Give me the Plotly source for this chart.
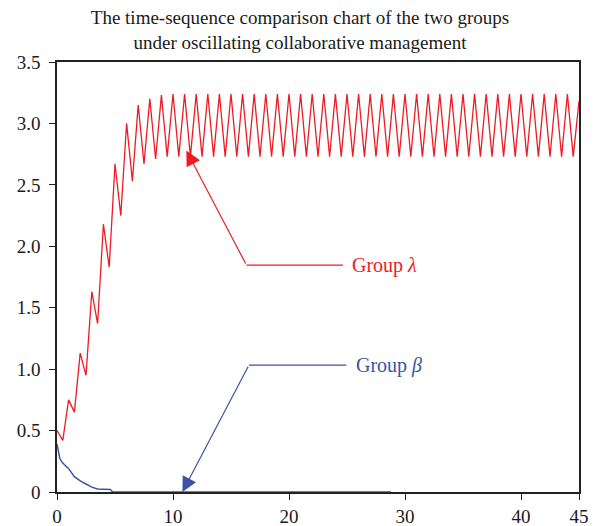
import plotly.graph_objects as go

# Group lambda (red): samples every 0.5 time units
red_t = [i * 0.5 for i in range(91)]
red_rise = [0.50, 0.42, 0.75, 0.65, 1.13, 0.95, 1.63, 1.37, 2.18, 1.83,
            2.67, 2.25, 3.00, 2.53, 3.15, 2.67, 3.20, 2.71, 3.23, 2.73]
red_peak = 3.24
red_trough = 2.73
red_last = 3.18
red_v = red_rise + [red_peak, red_trough] * 35 + [red_last]

# Group beta (blue)
blue_t = [0, 0.25, 0.5, 0.75, 1.0, 1.5, 2.0, 2.5, 3.0, 3.5, 4.0, 4.6, 4.8,
          10, 15, 20, 25, 28.8]
blue_v = [0.39, 0.27, 0.235, 0.21, 0.19, 0.125, 0.09, 0.065, 0.04, 0.025,
          0.02, 0.02, 0.0, 0.0, 0.0, 0.0, 0.0, 0.0]

x_ticks = [0, 10, 20, 30, 40, 45]
y_ticks = [0, 0.5, 1.0, 1.5, 2.0, 2.5, 3.0, 3.5]
y_tick_text = ["0", "0.5", "1.0", "1.5", "2.0", "2.5", "3.0", "3.5"]

RED = "#ED1C24"
BLUE = "#3A53A4"
FONT = "Liberation Serif"

fig = go.Figure()
fig.add_trace(go.Scatter(x=red_t, y=red_v, mode="lines",
                         line=dict(color=RED, width=1.3), showlegend=False))
fig.add_trace(go.Scatter(x=blue_t, y=blue_v, mode="lines",
                         line=dict(color=BLUE, width=1.5), showlegend=False))

# Callout lines
fig.add_shape(type="line", xref="x", yref="y", x0=16.33, y0=1.847, x1=24.66, y1=1.847,
              line=dict(color=RED, width=1.2))
fig.add_shape(type="line", xref="x", yref="y", x0=16.55, y0=1.033, x1=24.95, y1=1.033,
              line=dict(color=BLUE, width=1.2))

fig.add_annotation(x=11.15, y=2.78, ax=16.33, ay=1.847, xref="x", yref="y",
                   axref="x", ayref="y", text="", showarrow=True, arrowhead=2,
                   arrowsize=2.5, arrowwidth=1.2, arrowcolor=RED, standoff=0)
fig.add_annotation(x=10.81, y=0.0, ax=16.55, ay=1.033, xref="x", yref="y",
                   axref="x", ayref="y", text="", showarrow=True, arrowhead=2,
                   arrowsize=2.5, arrowwidth=1.2, arrowcolor=BLUE, standoff=0)

fig.add_annotation(x=25.3, y=1.847, xref="x", yref="y", text="Group <i>λ</i>",
                   showarrow=False, xanchor="left", yanchor="middle",
                   font=dict(family=FONT, size=20, color=RED))
fig.add_annotation(x=25.6, y=1.033, xref="x", yref="y", text="Group <i>β</i>",
                   showarrow=False, xanchor="left", yanchor="middle",
                   font=dict(family=FONT, size=20, color=BLUE))

fig.update_layout(
    width=600, height=526,
    margin=dict(l=57, r=21, t=62, b=34, autoexpand=False),
    paper_bgcolor="white", plot_bgcolor="white",
    font=dict(family=FONT, size=19, color="#1a1a1a"),
    title=dict(text="The time-sequence comparison chart of the two groups<br>under oscillating collaborative management",
               x=0.5, xanchor="center", y=1 - 24 / 526, yanchor="middle",
               font=dict(family=FONT, size=19, color="#1a1a1a")),
    xaxis=dict(range=[0, 45], tickvals=x_ticks, ticks="outside", ticklen=6,
               tickwidth=1.3, tickcolor="#222", showline=True, linecolor="#222",
               linewidth=1.5, mirror=True, showgrid=False, zeroline=False,
               automargin=False,
               layer="below traces", tickfont=dict(family=FONT, size=19)),
    yaxis=dict(range=[0, 3.5], tickvals=y_ticks, ticktext=y_tick_text,
               ticks="outside", ticklen=6, tickwidth=1.3, tickcolor="#222",
               showline=True, linecolor="#222", linewidth=1.5, mirror=True,
               showgrid=False, zeroline=False, automargin=False,
               ticklabelstandoff=5,
               layer="below traces", tickfont=dict(family=FONT, size=19)),
)

fig.write_html("out.html", config={"displayModeBar": False},
               post_script="document.body.style.margin='0';")
